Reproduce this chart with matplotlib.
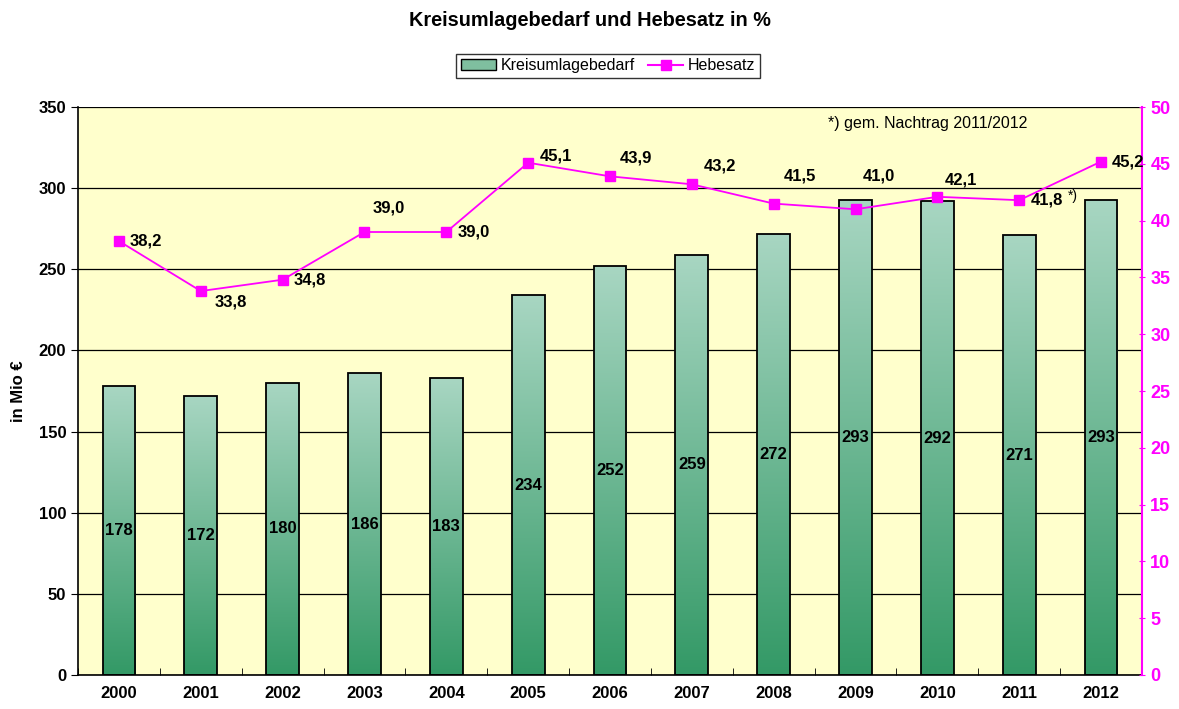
import matplotlib.pyplot as plt
import numpy as np
from matplotlib.patches import Patch
from matplotlib.lines import Line2D

plt.rcParams['font.family'] = ['Liberation Sans', 'DejaVu Sans']

years = ["2000", "2001", "2002", "2003", "2004", "2005", "2006",
         "2007", "2008", "2009", "2010", "2011", "2012"]
bedarf = [178, 172, 180, 186, 183, 234, 252, 259, 272, 293, 292, 271, 293]
hebesatz = [38.2, 33.8, 34.8, 39.0, 39.0, 45.1, 43.9, 43.2, 41.5, 41.0, 42.1, 41.8, 45.2]
# label offsets (points) for the Hebesatz values
hb_offsets = [(8, 0), (10, -8), (8, 0), (5.5, 17), (8, 0), (8, 5), (7, 13),
              (8.5, 13), (7.5, 20), (5, 24), (5, 12), (8, 0), (8, 0)]

magenta = "#ff00ff"
light = np.array([0xa8, 0xd6, 0xc2]) / 255
dark = np.array([0x33, 0x99, 0x66]) / 255

fig = plt.figure(figsize=(11.79, 7.09), dpi=100)
ax = fig.add_axes([0.0662, 0.048, 0.9024, 0.801])
ax.set_facecolor("#ffffcc")
x = np.arange(len(years))

bars = ax.bar(x, bedarf, width=0.4, color="none", edgecolor="black", linewidth=1.3, zorder=3)
grad = np.linspace(0, 1, 256)[:, None, None]
img = light * (1 - grad) + dark * grad
for b in bars:
    x0, w, h = b.get_x(), b.get_width(), b.get_height()
    im = ax.imshow(img, extent=[x0, x0 + w, 0, h], origin="upper", aspect="auto", zorder=2)
    im.set_clip_path(b)
    ax.text(x0 + w / 2, h / 2, str(b.get_height()), ha="center", va="center",
            fontsize=12, fontweight="bold", zorder=4)

ax.set_xlim(-0.5, len(years) - 0.5)
ax.set_ylim(0, 350)
ax.set_yticks(range(0, 351, 50))
ax.yaxis.grid(True, color="black", linewidth=0.9)
ax.set_axisbelow(True)
ax.set_xticks(x)
ax.set_xticklabels(years, fontsize=12, fontweight="bold")
ax.set_xticks(np.arange(-0.5, len(years)), minor=True)
ax.tick_params(axis="x", which="major", length=0, pad=8)
ax.tick_params(axis="x", which="minor", length=5, direction="in")
ax.tick_params(axis="y", labelsize=12, length=5, direction="out")
for lbl in ax.get_yticklabels():
    lbl.set_fontweight("bold")
ax.set_ylabel("in Mio €", fontsize=12, fontweight="bold", labelpad=9)
for s in ["top", "right"]:
    ax.spines[s].set_visible(False)
ax.spines["left"].set_linewidth(1.2)
ax.spines["bottom"].set_linewidth(1.2)

ax2 = ax.twinx()
ax2.plot(x, hebesatz, color=magenta, linewidth=1.3, marker="s", markersize=7, zorder=5)
ax2.set_ylim(0, 50)
ax2.set_yticks(range(0, 51, 5))
ax2.tick_params(axis="y", colors=magenta, labelsize=13, length=5, direction="inout")
for lbl in ax2.get_yticklabels():
    lbl.set_fontweight("bold")
for s in ["top", "left", "bottom"]:
    ax2.spines[s].set_visible(False)
ax2.spines["right"].set_color(magenta)
ax2.spines["right"].set_linewidth(1.5)
for xi, v, off in zip(x, hebesatz, hb_offsets):
    ax2.annotate(f"{v:.1f}".replace(".", ","), (xi, v), xytext=off, textcoords="offset points",
                 ha="left", va="center", fontsize=12, fontweight="bold")
ax2.annotate("*)", (11, hebesatz[11]), xytext=(35, 3), textcoords="offset points",
             ha="left", va="center", fontsize=10)
ax.text(0.799, 0.985, "*) gem. Nachtrag 2011/2012", transform=ax.transAxes, ha="center",
        va="top", fontsize=11.5)

fig.suptitle("Kreisumlagebedarf und Hebesatz in %", y=0.985, fontsize=14.3, fontweight="bold")
handles = [Patch(facecolor="#7fbf9f", edgecolor="black", label="Kreisumlagebedarf"),
           Line2D([], [], color=magenta, marker="s", markersize=7, label="Hebesatz")]
fig.legend(handles=handles, loc="center", bbox_to_anchor=(0.516, 0.907), ncol=2,
           fontsize=11.5, frameon=True, fancybox=False, edgecolor="black",
           handlelength=2.2, borderpad=0.3, columnspacing=0.8, handletextpad=0.3)

fig.savefig("out.png", dpi=100)
